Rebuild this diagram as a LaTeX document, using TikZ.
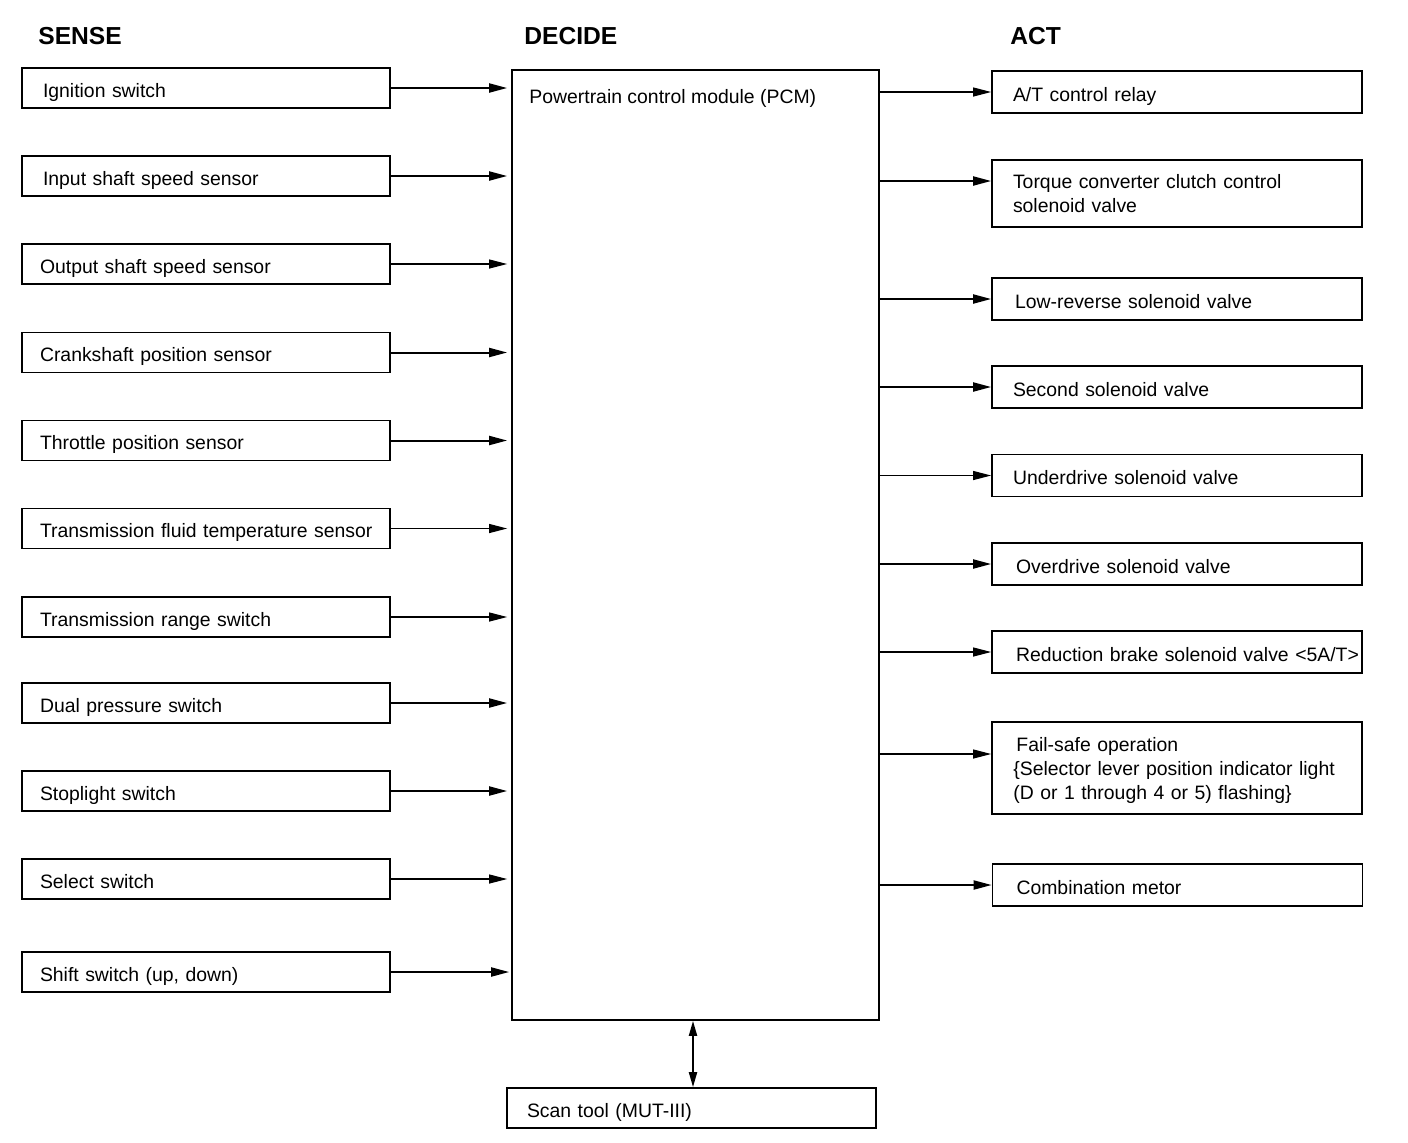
\documentclass[tikz,border=0pt]{standalone}
\usepackage{fontspec}
\setmainfont{Liberation Sans}
\usetikzlibrary{arrows.meta}
\newcommand{\lowtxt}[1]{\raisebox{-2pt}[7pt][2pt]{#1}}
\begin{document}
\begin{tikzpicture}[x=0.5pt,y=-0.5pt,
  txt/.style={font=\fontsize{9.7}{12}\selectfont},
  wide/.style={execute at begin node={\rightskip=-40pt plus 1fil\parfillskip=0pt\hyphenpenalty=10000}},
  head/.style={font=\fontsize{12.3}{14}\selectfont\bfseries, anchor=west, inner sep=0pt},
  sbox/.style={draw, line width=0.85pt, txt, wide, minimum width=184pt, minimum height=20pt,
     inner xsep=9pt, inner ysep=0pt, text width=166pt},
  abox/.style={draw, line width=0.85pt, txt, wide, minimum width=185pt, minimum height=21pt,
     inner xsep=10.5pt, inner ysep=0pt, text width=164pt},
  tip/.style={-{Triangle[length=9pt,width=4.5pt]}},
  thk/.style={tip, line width=1pt},
  thn/.style={tip, line width=0.55pt},
  ]
\useasboundingbox (0,0) rectangle (1408,1142);

% headings
\node[head] (hs) at (38,36) {SENSE};
\node[head] (hd) at (524,36) {DECIDE};
\node[head] (ha) at (1010,36) {ACT};

% PCM
\node[draw, line width=0.85pt, minimum width=183.5pt, minimum height=475pt, inner sep=0pt] (pcm) at (695.5,545) {};
\node[txt, anchor=west, inner sep=0pt] (pcmt) at (529,98) {Powertrain control module (PCM)};

% sense boxes
\node[sbox] (s1) at (206,88) {\lowtxt{\hspace*{1.5pt}Ignition switch}};
\node[sbox] (s2) at (206,176) {\lowtxt{\hspace*{1.5pt}Input shaft speed sensor}};
\node[sbox] (s3) at (206,264) {\lowtxt{Output shaft speed sensor}};
\node[sbox] (s4) at (206,352.5) {\lowtxt{Crankshaft position sensor}};
\node[sbox] (s5) at (206,440.5) {\lowtxt{Throttle position sensor}};
\node[sbox] (s6) at (206,528.5) {\lowtxt{Transmission fluid temperature sensor}};
\node[sbox] (s7) at (206,617) {\lowtxt{Transmission range switch}};
\node[sbox] (s8) at (206,703) {\lowtxt{Dual pressure switch}};
\node[sbox] (s9) at (206,791) {\lowtxt{Stoplight switch}};
\node[sbox] (s10) at (206,879) {\lowtxt{Select switch}};
\node[sbox] (s11) at (206,972) {\lowtxt{Shift switch (up, down)}};

\draw[thk, shorten >=2pt] (s1.east) -- (s1.east -| pcm.west);
\draw[thk, shorten >=2pt] (s2.east) -- (s2.east -| pcm.west);
\draw[thn, shorten >=2pt] (s3.east) -- (s3.east -| pcm.west);
\draw[thk, shorten >=2pt] (s4.east) -- (s4.east -| pcm.west);
\draw[thk, shorten >=2pt] (s5.east) -- (s5.east -| pcm.west);
\draw[thn, shorten >=2pt] (s6.east) -- (s6.east -| pcm.west);
\draw[thn, shorten >=2pt] (s7.east) -- (s7.east -| pcm.west);
\draw[thk, shorten >=2pt] (s8.east) -- (s8.east -| pcm.west);
\draw[thk, shorten >=2pt] (s9.east) -- (s9.east -| pcm.west);
\draw[thn, shorten >=2pt] (s10.east) -- (s10.east -| pcm.west);
\draw[thk, shorten >=1pt] (s11.east) -- (s11.east -| pcm.west);

% act boxes
\node[abox] (a1) at (1177,92) {\lowtxt{A/T control relay}};
\node[abox, minimum height=33.5pt] (a2) at (1177,193.5) {Torque converter clutch control\\solenoid valve};
\node[abox] (a3) at (1177,299) {\lowtxt{\hspace*{1pt}Low-reverse solenoid valve}};
\node[abox] (a4) at (1177,387) {\lowtxt{Second solenoid valve}};
\node[abox] (a5) at (1177,475.5) {\lowtxt{Underdrive solenoid valve}};
\node[abox] (a6) at (1177,564) {\lowtxt{\hspace*{1.5pt}Overdrive solenoid valve}};
\node[abox] (a7) at (1177,652) {\lowtxt{\hspace*{1.5pt}Reduction brake solenoid valve <5A/T>}};
\node[draw, line width=0.85pt, minimum width=185pt, minimum height=46pt, inner sep=0pt] (a8) at (1177,768) {};
\node[txt, wide, anchor=west, inner xsep=0pt, inner ysep=0pt, text width=164pt] (a8t) at (1016,770) {Fail-safe operation\\\hspace*{-1.5pt}\{Selector lever position indicator light\\\hspace*{-1.5pt}(D or 1 through 4 or 5) flashing\}};
\node[abox] (a9) at (1177.5,885) {\lowtxt{\hspace*{1.5pt}Combination metor}};

\coordinate (y2) at (0,181);
\coordinate (y8) at (0,754);
\draw[thn] (a1.west -| pcm.east) -- (a1.west);
\draw[thk] (pcm.east |- y2) -- (a2.west |- y2);
\draw[thk] (a3.west -| pcm.east) -- (a3.west);
\draw[thk] (a4.west -| pcm.east) -- (a4.west);
\draw[thn] (a5.west -| pcm.east) -- (a5.west);
\draw[thk] (a6.west -| pcm.east) -- (a6.west);
\draw[thn] (a7.west -| pcm.east) -- (a7.west);
\draw[thn] (pcm.east |- y8) -- (a8.west |- y8);
\draw[thk] (a9.west -| pcm.east) -- (a9.west);

% scan tool
\node[draw, line width=0.85pt, txt, wide, minimum width=184.5pt, minimum height=20pt,
     inner xsep=10pt, inner ysep=0pt, text width=164.5pt] (scan) at (691.5,1108) {\lowtxt{Scan tool (MUT-III)}};
\coordinate (xs) at (693,0);
\draw[line width=1pt, {Triangle[length=7.5pt,width=4pt]}-{Triangle[length=7.5pt,width=4pt]}]
  (pcm.south -| xs) -- (scan.north -| xs);
\end{tikzpicture}
\end{document}
